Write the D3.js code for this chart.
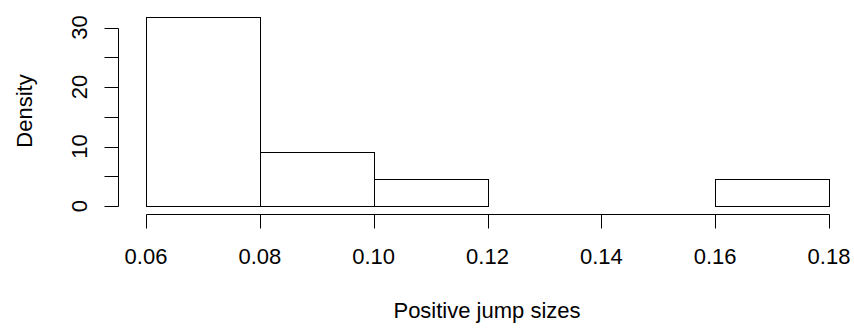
<!DOCTYPE html>
<html>
<head>
<meta charset="utf-8">
<script src="https://cdn.jsdelivr.net/npm/d3@7/dist/d3.min.js"></script>
<style>
  html, body { margin: 0; padding: 0; background: #fff; }
  svg { display: block; }
  text { font-family: "Liberation Sans", Arial, sans-serif; fill: #000; }
</style>
</head>
<body>
<script>
// Histogram data (R hist, density scale)
const binStarts = [0.06, 0.08, 0.10, 0.12, 0.14, 0.16];
const binEnds   = [0.08, 0.10, 0.12, 0.14, 0.16, 0.18];
const densities = [31.818, 9.091, 4.545, 0, 0, 4.545];
const xTicks = [0.06, 0.08, 0.10, 0.12, 0.14, 0.16, 0.18];
const yTicks = [0, 5, 10, 15, 20, 25, 30];
const yLabelTicks = [0, 10, 20, 30];
const xTitle = "Positive jump sizes";
const yTitle = "Density";

const W = 854, H = 332;
const svg = d3.select("body").append("svg").attr("width", W).attr("height", H);

const x = d3.scaleLinear().domain([0.06, 0.18]).range([146, 829]);
const y = d3.scaleLinear().domain([0, 30]).range([206, 27.5]);

const fs = 22;

// bars
svg.append("g").selectAll("rect")
  .data(binStarts.map((s, i) => ({ s, e: binEnds[i], d: densities[i] })))
  .join("rect")
  .attr("x", d => Math.round(x(d.s)) + 0.5)
  .attr("y", d => Math.round(y(d.d)) + 0.5)
  .attr("width", d => Math.round(x(d.e)) - Math.round(x(d.s)))
  .attr("height", d => Math.round(y(0)) - Math.round(y(d.d)))
  .attr("fill", "none")
  .attr("stroke", "#000")
  .attr("stroke-width", 1);

// x axis
const xAxisY = 214;
const gx = svg.append("g");
gx.append("line")
  .attr("x1", Math.round(x(0.06)) + 0.5).attr("x2", Math.round(x(0.18)) + 0.5)
  .attr("y1", xAxisY + 0.5).attr("y2", xAxisY + 0.5)
  .attr("stroke", "#000");
gx.selectAll("line.tick").data(xTicks).join("line")
  .attr("class", "tick")
  .attr("x1", d => Math.round(x(d)) + 0.5).attr("x2", d => Math.round(x(d)) + 0.5)
  .attr("y1", xAxisY + 0.5).attr("y2", xAxisY + 14.5)
  .attr("stroke", "#000");
gx.selectAll("text").data(xTicks).join("text")
  .attr("x", d => x(d)).attr("y", 264)
  .attr("text-anchor", "middle")
  .attr("font-size", fs)
  .text(d => d3.format(".2f")(d));

// y axis
const yAxisX = 118;
const gy = svg.append("g");
gy.append("line")
  .attr("x1", yAxisX + 0.5).attr("x2", yAxisX + 0.5)
  .attr("y1", Math.round(y(0)) + 0.5).attr("y2", Math.round(y(30)) + 0.5)
  .attr("stroke", "#000");
gy.selectAll("line.tick").data(yTicks).join("line")
  .attr("class", "tick")
  .attr("x1", yAxisX + 0.5).attr("x2", yAxisX - 13.5)
  .attr("y1", d => Math.round(y(d)) + 0.5).attr("y2", d => Math.round(y(d)) + 0.5)
  .attr("stroke", "#000");
gy.selectAll("text").data(yLabelTicks).join("text")
  .attr("transform", d => `translate(87,${y(d)}) rotate(-90)`)
  .attr("text-anchor", "middle")
  .attr("font-size", fs)
  .text(d => d);

// titles
svg.append("text")
  .attr("x", 487).attr("y", 318)
  .attr("text-anchor", "middle")
  .attr("font-size", fs)
  .text(xTitle);
svg.append("text")
  .attr("transform", "translate(32,111) rotate(-90)")
  .attr("text-anchor", "middle")
  .attr("font-size", fs)
  .text(yTitle);
</script>
</body>
</html>
